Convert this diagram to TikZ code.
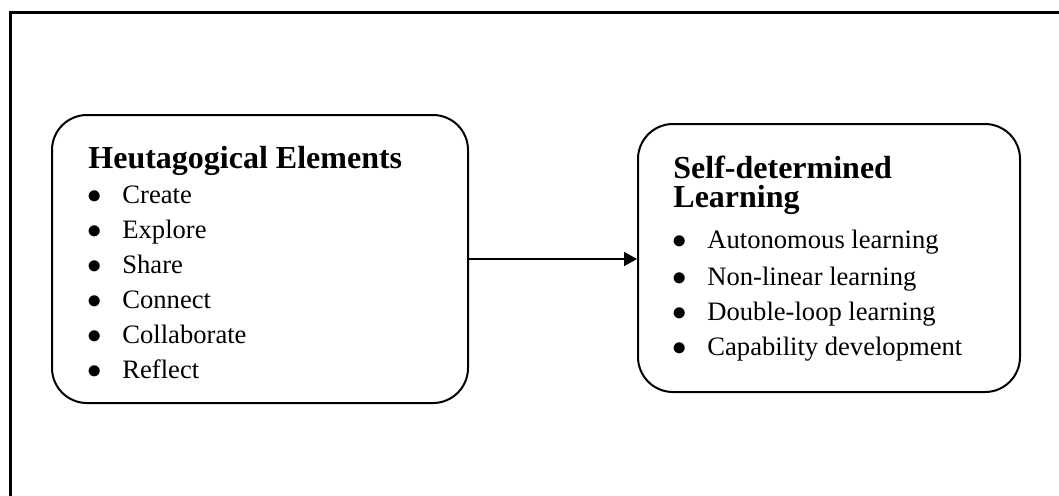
\documentclass[tikz,border=0pt]{standalone}
\usepackage{fontspec}
\setmainfont{Liberation Serif}
\usetikzlibrary{arrows.meta}

\tikzset{
    roundbox/.style={draw,line width=1pt,rounded corners=17.5pt,inner sep=0pt},
    heading/.style={anchor=base west,inner sep=0pt,align=left,
        font=\fontsize{16}{14.5}\selectfont\bfseries},
    entry/.style={anchor=base west,inner sep=0pt,font=\fontsize{13.3}{16}\selectfont},
    flow/.style={line width=1pt,-{Triangle[length=6.5pt,width=7pt]}}
}
\newcommand{\bulletentry}[1]{\makebox[17.5pt][l]{$\bullet$}#1}

\begin{document}
\begin{tikzpicture}[x=0.5pt,y=-0.5pt]
    \useasboundingbox (0,0) rectangle (1059,495);
    \clip (0,0) rectangle (1059,495);
    % outer frame
    \draw[line width=1.5pt] (10,12) rectangle (1080,520);

    \node[roundbox,minimum width=208pt,minimum height=144pt] (heut) at (260,259) {};
    \node[roundbox,minimum width=191pt,minimum height=134pt] (sdl) at (829,258) {};

    \node[heading] (heuttitle) at (88,168) {Heutagogical Elements};
    \foreach \y/\txt [count=\i] in {203/Create,238/Explore,273/Share,
        308/Connect,343/Collaborate,378/Reflect} {
     \node[entry] (heut\i) at (87,\y) {\bulletentry{\txt}};
    }

    % base anchor sits on the last line here
    \node[heading] (sdltitle) at (673,207) {Self-determined\\Learning};
    \foreach \y/\txt [count=\i] in {248/Autonomous learning,285/Non-linear learning,
        320/Double-loop learning,355/Capability development} {
     \node[entry] (sdl\i) at (672,\y) {\bulletentry{\txt}};
    }

    \draw[flow] (heut.east) -- (heut.east -| sdl.west);
\end{tikzpicture}
\end{document}
